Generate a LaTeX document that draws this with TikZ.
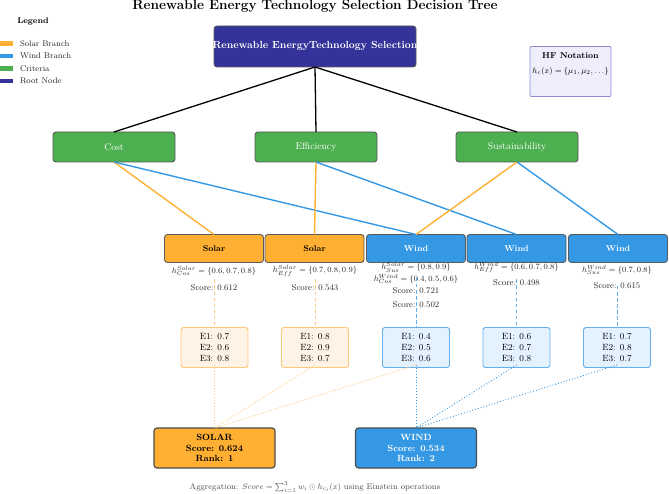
\documentclass[tikz,border=0pt]{standalone}
\usepackage{amsmath,amssymb}
\begin{document}
\begin{tikzpicture}[x=1pt,y=-1pt,
  every node/.style={inner sep=0pt, outer sep=0pt},
  box/.style={draw=black!65, line width=0.9pt, rounded corners=3pt, anchor=center},
  rootbox/.style={box, fill=rootc, minimum width=202pt, minimum height=41pt},
  critbox/.style={box, fill=critc, minimum width=122pt, minimum height=30pt, text=white, font=\fontsize{9.7}{11}\selectfont},
  solbox/.style={box, fill=solc, minimum width=99pt, minimum height=28pt, text=black, font=\fontsize{8.5}{10}\selectfont\bfseries},
  windbox/.style={box, fill=windc, minimum width=99pt, minimum height=28pt, text=white, font=\fontsize{8.5}{10}\selectfont\bfseries},
  solev/.style={draw=solev, fill=solevf, line width=0.9pt, rounded corners=2.5pt, minimum width=67pt, minimum height=40pt, align=center, font=\fontsize{9}{10.7}\selectfont},
  windev/.style={draw=windev, fill=windevf, line width=0.9pt, rounded corners=2.5pt, minimum width=67pt, minimum height=40pt, align=center, font=\fontsize{9}{10.7}\selectfont},
  finsol/.style={box, draw=black!70, line width=1.2pt, fill=solc, minimum width=121pt, minimum height=40pt, align=center, text=black, font=\fontsize{9}{10.7}\selectfont\bfseries},
  finwind/.style={box, draw=black!70, line width=1.2pt, fill=windc, minimum width=121pt, minimum height=40pt, align=center, text=white, font=\fontsize{9}{10.7}\selectfont\bfseries},
  rootline/.style={black, line width=1.3pt},
  solline/.style={solc, line width=1.4pt},
  windline/.style={windc, line width=1.4pt},
  soldash/.style={solev, line width=0.8pt, dash pattern=on 3.5pt off 2.5pt},
  winddash/.style={windev, line width=0.8pt, dash pattern=on 3.5pt off 2.5pt},
  soldot/.style={solev, line width=0.9pt, dotted},
  winddot/.style={windc, line width=0.9pt, dotted},
  lbl/.style={font=\fontsize{8.5}{10}\selectfont, text=black!85},
  legtxt/.style={font=\fontsize{8.2}{10}\selectfont, anchor=west, text=black!85},
  legbar/.style={minimum width=13pt, minimum height=4.5pt, anchor=west}
]
\definecolor{rootc}{RGB}{51,51,153}
\definecolor{critc}{RGB}{76,175,80}
\definecolor{solc}{RGB}{255,176,51}
\definecolor{windc}{RGB}{52,152,228}
\definecolor{solev}{RGB}{255,200,120}
\definecolor{solevf}{RGB}{255,243,230}
\definecolor{windev}{RGB}{100,176,236}
\definecolor{windevf}{RGB}{228,241,255}
\definecolor{hfc}{RGB}{238,238,252}
\definecolor{hfb}{RGB}{140,140,210}
\useasboundingbox (0,0) rectangle (669,494);

% title
\node[anchor=base, font=\fontsize{13.6}{15}\selectfont\bfseries] (title) at (315,10) {Renewable Energy Technology Selection Decision Tree};

% legend
\node[font=\fontsize{8.2}{10}\selectfont\bfseries] (legtitle) at (33,21) {Legend};
\node[legbar, fill=solc] (lb1) at (0,43.5) {};
\node[legbar, fill=windc] (lb2) at (0,55.8) {};
\node[legbar, fill=critc] (lb3) at (0,68.5) {};
\node[legbar, fill=rootc] (lb4) at (0,81) {};
\node[legtxt] (lt1) at (20,43.5) {Solar Branch};
\node[legtxt] (lt2) at (20,55.8) {Wind Branch};
\node[legtxt] (lt3) at (20,68.5) {Criteria};
\node[legtxt] (lt4) at (20,81) {Root Node};

% HF notation
\node[draw=hfb, fill=hfc, line width=0.9pt, rounded corners=1pt, minimum width=81pt, minimum height=50pt] (hf) at (570.5,71.5) {};
\node[font=\fontsize{8.5}{10}\selectfont\bfseries] (hft) at (570.5,56) {HF Notation};
\node[font=\fontsize{8}{9}\selectfont] (hff) at (570.5,71.5) {$h_c(x)=\{\mu_1,\mu_2,\ldots\}$};

% root
\node[rootbox] (root) at (315,46.5) {};
\node[font=\fontsize{10.3}{12}\selectfont\bfseries, text=white] (roottxt) at (315,46) {Renewable EnergyTechnology Selection};

% criteria
\node[critbox] (cost) at (114,147) {Cost};
\node[critbox] (eff) at (316,147) {Efficiency};
\node[critbox] (sus) at (517,147) {Sustainability};

\draw[rootline] (root.south) -- (cost.north);
\draw[rootline] (root.south) -- (eff.north);
\draw[rootline] (root.south) -- (sus.north);

% branches
\node[solbox] (s1) at (214,248.5) {Solar};
\node[solbox] (s2) at (314.5,248.5) {Solar};
\node[windbox] (w1) at (416,248.5) {Wind};
\node[windbox] (w2) at (516.5,248.5) {Wind};
\node[windbox] (w3) at (618,248.5) {Wind};

% criteria to branch connectors
\draw[solline] (cost.south) -- (s1.north);
\draw[windline] (cost.south) -- (w1.north);
\draw[solline] (eff.south) -- (s2.north);
\draw[windline] (eff.south) -- (w2.north);
\draw[solline] (sus.south) -- (w1.north);
\draw[windline] (sus.south) -- (w3.north);

% labels
\node[lbl] (f1) at (214,271) {$h_{Cos}^{Solar}=\{0.6,0.7,0.8\}$};
\node[lbl] (sc1) at (214,287.5) {Score: 0.612};
\node[lbl] (f2) at (315,271) {$h_{Eff}^{Solar}=\{0.7,0.8,0.9\}$};
\node[lbl] (sc2) at (315,287.5) {Score: 0.543};
\node[lbl] (f3a) at (416,267.5) {$h_{Sus}^{Solar}=\{0.8,0.9\}$};
\node[lbl] (f3b) at (416,279) {$h_{Cos}^{Wind}=\{0.4,0.5,0.6\}$};
\node[lbl] (sc3a) at (416,291) {Score: 0.721};
\node[lbl] (sc3b) at (416,305) {Score: 0.502};
\node[lbl] (f4) at (516.5,267.5) {$h_{Eff}^{Wind}=\{0.6,0.7,0.8\}$};
\node[lbl] (sc4) at (516.5,282.5) {Score: 0.498};
\node[lbl] (f5) at (617,270) {$h_{Sus}^{Wind}=\{0.7,0.8\}$};
\node[lbl] (sc5) at (617,285.5) {Score: 0.615};

% evaluation boxes
\node[solev] (e1) at (214.5,347.5) {E1: 0.7\\E2: 0.6\\E3: 0.8};
\node[solev] (e2) at (315,347.5) {E1: 0.8\\E2: 0.9\\E3: 0.7};
\node[windev] (e3) at (416,347.5) {E1: 0.4\\E2: 0.5\\E3: 0.6};
\node[windev] (e4) at (516.5,347.5) {E1: 0.6\\E2: 0.7\\E3: 0.8};
\node[windev] (e5) at (617,347.5) {E1: 0.7\\E2: 0.8\\E3: 0.7};

% dashed connectors
\coordinate (d1) at (214.5,279.5);
\coordinate (d2) at (315,279.5);
\coordinate (d3) at (416,278);
\coordinate (d4) at (516.5,279.5);
\coordinate (d5) at (617,286);
\draw[soldash] (d1) -- (e1.north);
\draw[soldash] (d2) -- (e2.north);
\draw[winddash] (d3) -- (e3.north);
\draw[winddash] (d4) -- (e4.north);
\draw[winddash] (d5) -- (e5.north);

% final boxes
\node[finsol] (fs) at (214.5,448) {SOLAR\\Score: 0.624\\Rank: 1};
\node[finwind] (fw) at (416,448) {WIND\\Score: 0.534\\Rank: 2};

% dotted connectors
\coordinate (e1b) at ([yshift=2.5pt]e1.south);
\coordinate (e2b) at ([yshift=2.5pt]e2.south);
\coordinate (e3b) at ([yshift=2.5pt]e3.south);
\coordinate (e4b) at ([yshift=2.5pt]e4.south);
\coordinate (e5b) at ([yshift=2.5pt]e5.south);
\draw[soldot] (e1b) -- (fs.north);
\draw[soldot] (e2b) -- (fs.north);
\draw[soldot] (e3b) -- (fs.north);
\draw[winddot] (e3b) -- (fw.north);
\draw[winddot] (e4b) -- (fw.north);
\draw[winddot] (e5b) -- (fw.north);

% caption
\node[font=\fontsize{8.2}{9.5}\selectfont, text=black!70] (cap) at (315,487) {Aggregation: $Score=\sum_{i=1}^{3} w_i\odot h_{c_i}(x)$ using Einstein operations};
\end{tikzpicture}
\end{document}
